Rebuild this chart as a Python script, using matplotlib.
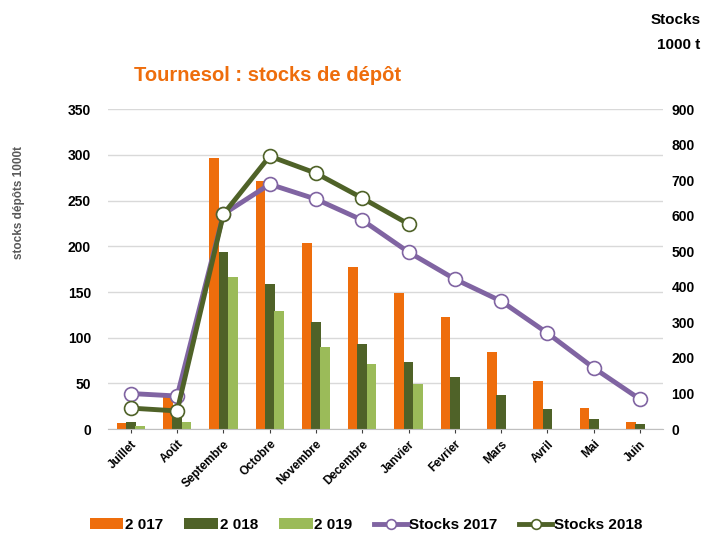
import matplotlib.pyplot as plt
import numpy as np

plt.rcParams['font.family'] = ['Liberation Sans', 'DejaVu Sans']

months = ['Juillet', 'Août', 'Septembre', 'Octobre', 'Novembre', 'Decembre',
          'Janvier', 'Fevrier', 'Mars', 'Avril', 'Mai', 'Juin']

# depot stocks per month (left axis, 1000 t)
dep_2017 = [7, 35, 297, 271, 204, 177, 149, 123, 84, 53, 23, 8]
dep_2018 = [8, 20, 194, 159, 117, 93, 73, 57, 37, 22, 11, 5]
dep_2019 = [3, 8, 166, 129, 90, 71, 49]

# total stocks (right axis)
stocks_2017 = [100, 93, 605, 689, 647, 588, 498, 422, 360, 270, 172, 84]
stocks_2018 = [59, 51, 605, 768, 720, 650, 577]

orange = '#EE6D0C'
dgreen = '#4F6228'
lgreen = '#9BBB59'
purple = '#8064A2'

fig = plt.figure(figsize=(7.04, 5.33), dpi=100)
ax = fig.add_axes([0.153, 0.195, 0.789, 0.60])
ax2 = ax.twinx()

x = np.arange(len(months))
w = 0.21
ax.bar(x - 0.2, dep_2017, w, color=orange, label='2 017', zorder=2)
ax.bar(x, dep_2018, w, color=dgreen, label='2 018', zorder=2)
ax.bar(np.arange(len(dep_2019)) + 0.2, dep_2019, w, color=lgreen, label='2 019', zorder=2)

ax2.plot(x, stocks_2017, color=purple, lw=3.5, marker='o', ms=10,
         mfc='white', mec=purple, mew=1.2, label='Stocks 2017')
ax2.plot(np.arange(len(stocks_2018)), stocks_2018, color=dgreen, lw=3.5, marker='o', ms=10,
         mfc='white', mec=dgreen, mew=1.2, label='Stocks 2018')

ax.set_xlim(-0.5, len(months) - 0.5)
ax.set_ylim(0, 350)
ax2.set_ylim(0, 900)
ax.set_yticks(range(0, 351, 50))
ax2.set_yticks(range(0, 901, 100))
ax.yaxis.grid(True, color='#D9D9D9', lw=1)
ax.set_axisbelow(True)

for a in (ax, ax2):
    for s in a.spines.values():
        s.set_visible(False)
    a.tick_params(axis='y', length=0, labelsize=10)
    for lab in a.get_yticklabels():
        lab.set_fontweight('bold')
ax.spines['bottom'].set_visible(True)
ax.spines['bottom'].set_color('#BFBFBF')
ax.tick_params(axis='y', pad=12)
ax2.tick_params(axis='y', pad=6)

ax.set_xticks(x)
ax.set_xticklabels(months, rotation=45, ha='right', rotation_mode='anchor',
                   fontsize=8.5, fontweight='bold')
ax.tick_params(axis='x', length=3, color='#404040')

fig.text(0.027, 0.62, 'stocks dépôts 1000t', rotation=90, ha='center', va='center',
         fontsize=8.5, fontweight='bold', color='#595959')
fig.text(0.19, 0.858, 'Tournesol : stocks de dépôt', fontsize=14.5, fontweight='bold',
         color=orange, ha='left', va='center')
fig.text(0.995, 0.962, 'Stocks', fontsize=11, fontweight='bold', ha='right', va='center')
fig.text(0.995, 0.915, '1000 t', fontsize=11, fontweight='bold', ha='right', va='center')

h1, l1 = ax.get_legend_handles_labels()
h2, l2 = ax2.get_legend_handles_labels()
fig.legend(h1 + h2, l1 + l2, loc='center', bbox_to_anchor=(0.52, 0.015), ncol=5,
           frameon=False, prop={'weight': 'bold', 'size': 11}, handlelength=2.2,
           handletextpad=0.1, columnspacing=1.4, markerscale=0.7)

fig.savefig('out.png', dpi=100)
